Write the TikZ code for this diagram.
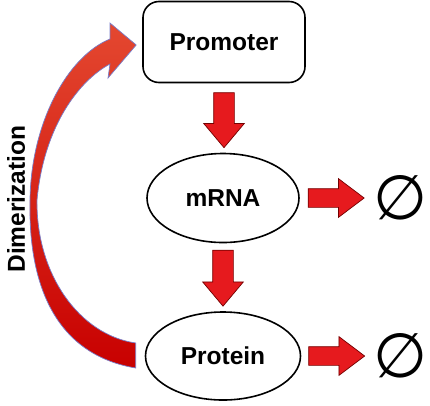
\documentclass[tikz,border=0pt]{standalone}
\usepackage{fontspec}
\setmainfont{Liberation Sans}
\newfontfamily\symfont{DejaVu Sans}
\usetikzlibrary{shapes.geometric, shapes.arrows, calc}

\begin{document}
\begin{tikzpicture}[x=1pt, y=-1pt,
    lbl/.style={font=\fontsize{24.5}{28}\selectfont\bfseries},
    state/.style={ellipse, draw, line width=1.6pt, lbl},
    fat/.style={single arrow, draw=black!55!red, line width=0.7pt,
      fill={rgb,255:red,230;green,26;blue,30}, inner sep=10pt,
      single arrow head indent=0pt, anchor=tail},
    nothing/.style={font=\symfont\fontsize{62}{66}\selectfont, inner sep=0pt},
    swoosh/.style={top color={rgb,255:red,228;green,72;blue,48},
      bottom color={rgb,255:red,200;green,0;blue,0},
      draw={rgb,255:red,120;green,125;blue,200}, line width=0.7pt}]
  \useasboundingbox (0,0) rectangle (430,405);

  % the three states
  \node[draw, rounded corners=16pt, line width=1.6pt, minimum width=162, minimum height=81, lbl] (prom) at (224,42) {Promoter};
  \node[state, minimum width=152, minimum height=89] (mrna) at (223,198) {mRNA};
  \node[state, minimum width=155, minimum height=88] (prot) at (223,356) {Protein};

  % degradation
  \node[nothing] (null1) at (400,198) {∅};
  \node[nothing] (null2) at (400,356) {∅};

  % production steps
  \node[fat, rotate=-90, single arrow head extend=10pt, single arrow tip angle=80, minimum height=55] (a1) at ($(prom.south)+(0,9)$) {};
  \node[fat, rotate=-90, single arrow head extend=10pt, single arrow tip angle=80, minimum height=56] (a2) at ($(mrna.south)+(0,6.5)$) {};
  \node[fat, inner sep=9pt, single arrow head extend=10pt, single arrow tip angle=74, minimum height=56] (a3) at ($(mrna.east)+(8,0)$) {};
  \node[fat, inner sep=9pt, single arrow head extend=10pt, single arrow tip angle=74, minimum height=56] (a4) at ($(prot.east)+(7,0)$) {};

  % feedback
  \coordinate (tail) at ($(prot.west)+(-9,0)$);
  \coordinate (tip) at ($(prom.west)+(-6,3)$);
  \shadedraw[swoosh] ($(tail)+(0,12)$) .. controls +(-77,-13) and (28,290) .. (30,200)
    .. controls (31,122) and (68,56) .. (110,39) -- (110,23) -- (tip) -- (108,78) -- (110,64)
    .. controls (80,80) and (44,125) .. (37,200)
    .. controls (36,275) and (80,335) .. ($(tail)+(0,-13)$) -- cycle;
  \node[lbl, rotate=90] (dim) at (16,199) {Dimerization};
\end{tikzpicture}
\end{document}
